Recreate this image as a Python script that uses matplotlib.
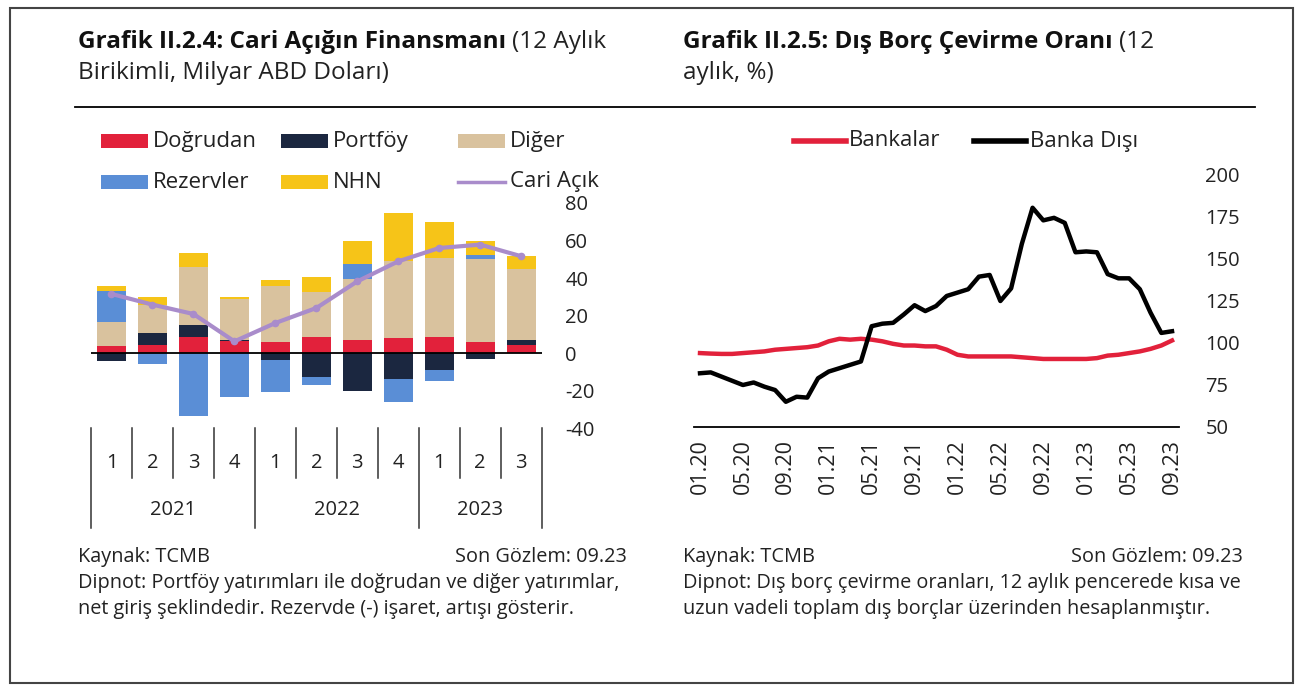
import matplotlib
matplotlib.use("Agg")
import matplotlib.pyplot as plt
from matplotlib.patches import Rectangle
import matplotlib.transforms as mtrans
import numpy as np

plt.rcParams['font.family'] = ['Open Sans', 'DejaVu Sans']
plt.rcParams['axes.unicode_minus'] = False

# ---------------- Data: left chart ----------------
quarters = ['1', '2', '3', '4', '1', '2', '3', '4', '1', '2', '3']
years = ['2021', '2022', '2023']
year_counts = [4, 4, 3]
dogrudan = [3.6, 4.3, 8.4, 6.2, 5.7, 8.5, 7.1, 8.0, 8.5, 5.7, 4.4]
portfoy = [-4.4, 6.4, 6.8, 0.9, -3.9, -12.8, -20.4, -13.9, -8.9, -3.2, 2.7]
diger = [12.8, 15.1, 30.8, 21.7, 29.9, 23.8, 32.4, 40.9, 42.1, 44.6, 37.7]
rezervler = [16.5, -5.7, -33.4, -23.5, -16.9, -4.1, 8.2, -12.3, -6.2, 2.1, 0.0]
nhn = [2.7, 4.1, 7.5, 1.1, 3.6, 8.2, 11.9, 25.8, 19.2, 7.1, 6.8]
cari_acik = [31.5, 25.8, 20.8, 6.2, 16.0, 24.0, 38.2, 48.9, 56.0, 57.8, 51.6]
left_yticks = [80, 60, 40, 20, 0, -20, -40]

# ---------------- Data: right chart ----------------
month_labels = ['01.20', '05.20', '09.20', '01.21', '05.21', '09.21',
                '01.22', '05.22', '09.22', '01.23', '05.23', '09.23']
bankalar = [94, 93.7, 93.5, 93.5, 94, 94.5, 95, 96, 96.5, 97, 97.5, 98.5,
            101, 102.5, 102, 102.5, 102, 101, 99.5, 98.5, 98.5, 98, 98, 96,
            93, 92, 92, 92, 92, 92, 91.5, 91, 90.5, 90.5, 90.5, 90.5,
            90.5, 91, 92.5, 93, 94, 95, 96.5, 98.5, 101.5]
banka_disi = [82, 82.5, 80, 77.5, 75, 76.5, 74, 72, 65, 68, 67.5, 79,
              83, 85, 87, 89, 110, 111.5, 112, 117, 122.5, 119, 122, 128,
              130, 132, 139.5, 140.5, 125, 132.5, 159, 180.5, 173, 174.5, 171.5, 154,
              154.5, 154, 141, 138.5, 138.5, 132, 118, 106, 107]
right_yticks = [200, 175, 150, 125, 100, 75, 50]

C_RED = '#E2213B'
C_NAVY = '#1B2740'
C_TAN = '#D9C29E'
C_BLUE = '#5A8ED6'
C_YEL = '#F6C418'
C_PURP = '#A98CCB'
TXT = '#222222'

W, H = 1303, 690
fig = plt.figure(figsize=(W / 100, H / 100), dpi=100)
fig.patch.set_facecolor('white')

def fx(px):
    return px / W

def fy(py):
    return 1 - py / H

tick_size = 14.5

# ---------------- Left chart ----------------
L0, R0, T0, B0 = 91, 541.7, 203, 428
axL = fig.add_axes([fx(L0), fy(B0), fx(R0 - L0), (B0 - T0) / H])
x = np.arange(len(quarters))
bw = 0.7
series = [(dogrudan, C_RED), (portfoy, C_NAVY), (diger, C_TAN),
          (rezervler, C_BLUE), (nhn, C_YEL)]
pos_base = np.zeros(len(x))
neg_base = np.zeros(len(x))
for vals, col in series:
    v = np.array(vals, dtype=float)
    p = np.where(v > 0, v, 0)
    n = np.where(v < 0, v, 0)
    axL.bar(x, p, bw, bottom=pos_base, color=col, zorder=2)
    axL.bar(x, n, bw, bottom=neg_base, color=col, zorder=2)
    pos_base += p
    neg_base += n
axL.plot(x, cari_acik, color=C_PURP, lw=3, marker='o', ms=4.5, zorder=4)
axL.axhline(0, color='black', lw=1.3, zorder=3)
axL.set_xlim(-0.5, len(x) - 0.5)
axL.set_ylim(-40, 80)
axL.set_yticks(left_yticks)
axL.yaxis.tick_right()
axL.tick_params(axis='y', length=0, pad=17, labelsize=tick_size, colors=TXT)
axL.set_xticks([])
for s in axL.spines.values():
    s.set_visible(False)
axL.patch.set_alpha(0)

# category axis below
trL = mtrans.blended_transform_factory(axL.transData, axL.transAxes)
hL = B0 - T0
year_edges = np.cumsum([0] + year_counts) - 0.5
for i in range(len(quarters) + 1):
    xe = i - 0.5
    is_year = np.any(np.isclose(year_edges, xe))
    y_end = -(100 / hL) if is_year else -(50 / hL)
    axL.plot([xe, xe], [0, y_end], transform=trL, color='#333333', lw=1.1,
             clip_on=False)
for i, q in enumerate(quarters):
    axL.text(i, -(35 / hL), q, transform=trL, ha='center', va='center',
             fontsize=tick_size, color=TXT)
for k, yr in enumerate(years):
    xc = (year_edges[k] + year_edges[k + 1]) / 2
    axL.text(xc, -(82 / hL), yr, transform=trL, ha='center', va='center',
             fontsize=tick_size, color=TXT)

# ---------------- Right chart ----------------
L1, R1, T1, B1 = 694, 1179, 175, 427
axR = fig.add_axes([fx(L1), fy(B1), fx(R1 - L1), (B1 - T1) / H])
m = np.arange(len(bankalar))
axR.plot(m, bankalar, color=C_RED, lw=3.2, zorder=3)
axR.plot(m, banka_disi, color='black', lw=3.2, zorder=4)
axR.set_ylim(50, 200)
axR.set_xlim(-0.56, 44.65)
axR.set_yticks(right_yticks)
axR.yaxis.tick_right()
axR.tick_params(axis='y', length=0, pad=19, labelsize=tick_size, colors=TXT)
axR.set_xticks(np.arange(0, len(bankalar), 4))
axR.set_xticklabels(month_labels, rotation=90)
axR.tick_params(axis='x', length=0, pad=9, labelsize=15.5, colors=TXT)
for k, s in axR.spines.items():
    s.set_visible(k == 'bottom')
axR.spines['bottom'].set_linewidth(1.3)
axR.patch.set_alpha(0)

# ---------------- Overlay: titles, legends, footers ----------------
ov = fig.add_axes([0, 0, 1, 1], zorder=10)
ov.set_xlim(0, W)
ov.set_ylim(H, 0)
ov.axis('off')
ov.patch.set_alpha(0)

ov.add_patch(Rectangle((10, 8), 1283, 675, fill=False, ec='#444444', lw=1.5))
ov.plot([75, 1255], [107, 107], color='black', lw=1.3)

renderer = fig.canvas.get_renderer()

def two_part(xp, yp, bold_txt, norm_txt, size):
    t = ov.text(xp, yp, bold_txt, fontsize=size, fontweight='bold',
                ha='left', va='center', color='#111111')
    bb = t.get_window_extent(renderer)
    ov.text(bb.x1 + 6, yp, norm_txt, fontsize=size, ha='left', va='center',
            color=TXT)

tsize = 17.5
two_part(78, 42, 'Grafik II.2.4: Cari Açığın Finansmanı', '(12 Aylık', tsize)
ov.text(78, 73, 'Birikimli, Milyar ABD Doları)', fontsize=tsize, ha='left',
        va='center', color=TXT)
two_part(683, 42, 'Grafik II.2.5: Dış Borç Çevirme Oranı', '(12', tsize)
ov.text(683, 73, 'aylık, %)', fontsize=tsize, ha='left', va='center',
        color=TXT)

lsize = 16
leg_items = [
    (101, 141, 'patch', C_RED, 'Doğrudan'),
    (281, 141, 'patch', C_NAVY, 'Portföy'),
    (458, 141, 'patch', C_TAN, 'Diğer'),
    (101, 182, 'patch', C_BLUE, 'Rezervler'),
    (281, 182, 'patch', C_YEL, 'NHN'),
    (458, 182, 'line', C_PURP, 'Cari Açık'),
]
for xp, yp, kind, col, lab in leg_items:
    if kind == 'patch':
        ov.add_patch(Rectangle((xp, yp - 7), 47, 14, color=col, lw=0))
    else:
        ov.plot([xp, xp + 47], [yp, yp], color=col, lw=2.5)
    ov.text(xp + 52, yp, lab, fontsize=lsize, ha='left', va='center',
            color=TXT)

ov.plot([794, 846], [141, 141], color=C_RED, lw=4)
ov.text(849, 141, 'Bankalar', fontsize=lsize, ha='left', va='center', color=TXT)
ov.plot([974, 1026], [141, 141], color='black', lw=4)
ov.text(1030, 141, 'Banka Dışı', fontsize=lsize, ha='left', va='center', color=TXT)

fsize = 14.3
ov.text(78, 557, 'Kaynak: TCMB', fontsize=fsize, ha='left', va='center', color=TXT)
ov.text(627, 557, 'Son Gözlem: 09.23', fontsize=fsize, ha='right', va='center', color=TXT)
ov.text(78, 583, 'Dipnot: Portföy yatırımları ile doğrudan ve diğer yatırımlar,',
        fontsize=fsize, ha='left', va='center', color=TXT)
ov.text(78, 609, 'net giriş şeklindedir. Rezervde (-) işaret, artışı gösterir.',
        fontsize=fsize, ha='left', va='center', color=TXT)
ov.text(683, 557, 'Kaynak: TCMB', fontsize=fsize, ha='left', va='center', color=TXT)
ov.text(1243, 557, 'Son Gözlem: 09.23', fontsize=fsize, ha='right', va='center', color=TXT)
ov.text(683, 583, 'Dipnot: Dış borç çevirme oranları, 12 aylık pencerede kısa ve',
        fontsize=fsize, ha='left', va='center', color=TXT)
ov.text(683, 609, 'uzun vadeli toplam dış borçlar üzerinden hesaplanmıştır.',
        fontsize=fsize, ha='left', va='center', color=TXT)

fig.savefig('out.png', dpi=100, facecolor='white')
